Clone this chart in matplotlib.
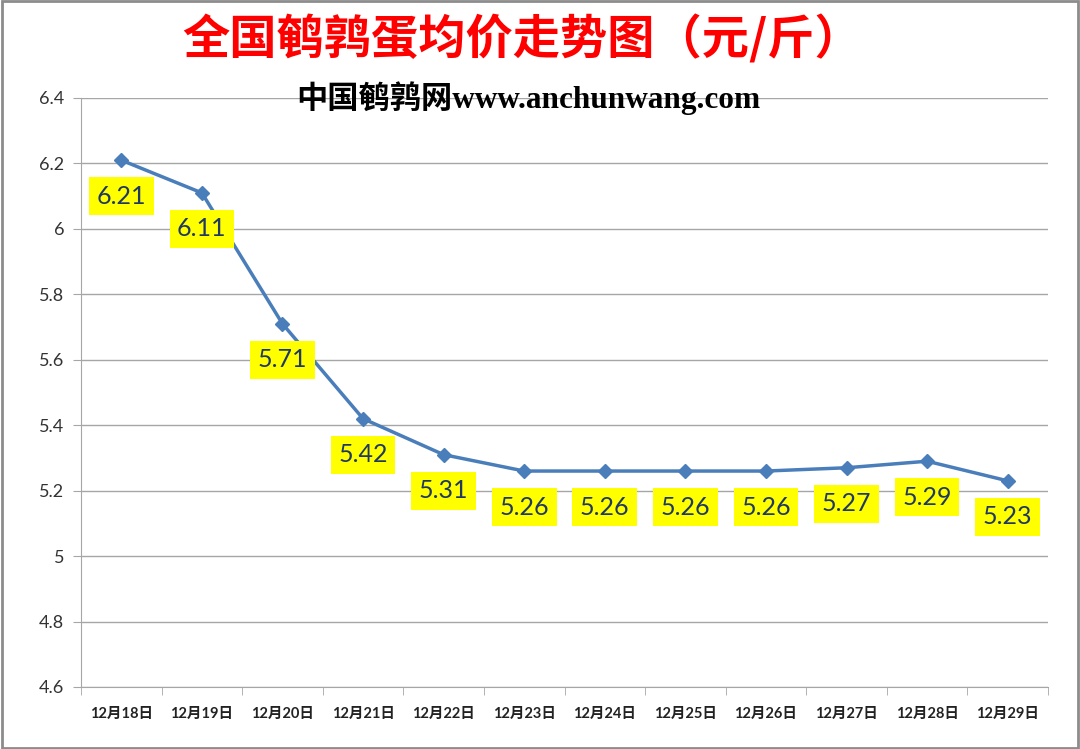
import matplotlib.pyplot as plt
from matplotlib.patches import Rectangle

dates = ['12月18日', '12月19日', '12月20日', '12月21日', '12月22日', '12月23日',
         '12月24日', '12月25日', '12月26日', '12月27日', '12月28日', '12月29日']
prices = [6.21, 6.11, 5.71, 5.42, 5.31, 5.26, 5.26, 5.26, 5.26, 5.27, 5.29, 5.23]
yticks = [4.6, 4.8, 5, 5.2, 5.4, 5.6, 5.8, 6, 6.2, 6.4]

plt.rcParams['font.family'] = ['Lato', 'Noto Sans CJK SC', 'DejaVu Sans']

fig = plt.figure(figsize=(10.8, 7.49), dpi=100)
fig.patches.append(Rectangle((0.002, 0.002), 0.996, 0.996, transform=fig.transFigure,
                             fill=False, edgecolor='#8c8c8c', linewidth=2))
ax = fig.add_axes([81 / 1080, 1 - 687 / 749, (1048 - 81) / 1080, (687 - 98) / 749])

x = list(range(len(dates)))
ax.plot(x, prices, color='#4a7ebb', linewidth=2.5, marker='D', markersize=7, zorder=3)

for xi, p in zip(x, prices):
    ax.annotate(f'{p:.2f}', (xi, p), xytext=(0, -36), textcoords='offset pixels',
                ha='center', va='center', fontsize=18, color='#1f3864',
                bbox=dict(boxstyle='square,pad=0.3', facecolor='#ffff00', edgecolor='none'),
                zorder=4)

ax.set_xlim(-0.5, len(dates) - 0.5)
ax.set_ylim(4.6, 6.4)
ax.set_yticks(yticks)
ax.set_yticklabels([f'{v:g}' for v in yticks], fontsize=13, color='#333333')
ax.yaxis.grid(True, color='#a6a6a6', linewidth=1)
ax.set_axisbelow(True)

ax.set_xticks(x)
ax.set_xticklabels(dates, fontsize=10.5, fontweight='bold', color='#222222')
ax.set_xticks([i - 0.5 for i in range(len(dates) + 1)], minor=True)
ax.tick_params(axis='x', which='major', length=0, pad=14)
ax.tick_params(axis='x', which='minor', length=6, color='#a6a6a6')
ax.tick_params(axis='y', length=6, color='#a6a6a6', pad=6)

for side in ['top', 'right']:
    ax.spines[side].set_visible(False)
for side in ['left', 'bottom']:
    ax.spines[side].set_color('#a6a6a6')

fig.text(522 / 1080, 1 - 40 / 749, '全国鹌鹑蛋均价走势图（元/斤）', ha='center', va='center',
         fontsize=34, fontweight='bold', color='#ff0000',
         family=['Noto Sans CJK SC', 'DejaVu Sans'])
fig.text(528 / 1080, 1 - 98 / 749, '中国鹌鹑网www.anchunwang.com', ha='center', va='center',
         fontsize=22.5, fontweight='bold', color='#000000',
         family=['Liberation Serif', 'Noto Sans CJK SC'])

fig.savefig('out.png', dpi=100)
